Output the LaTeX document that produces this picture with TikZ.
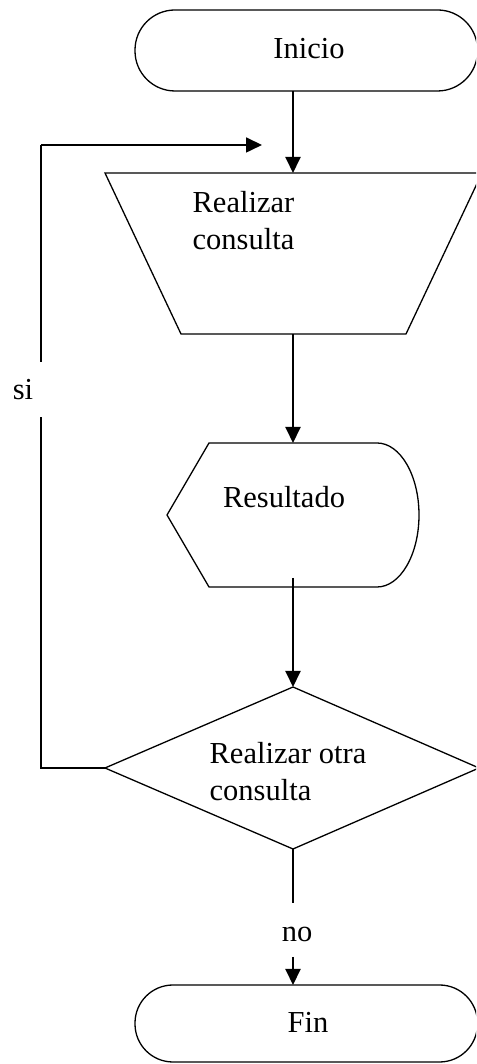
\documentclass[tikz,border=0pt]{standalone}
\usepackage{fontspec}
\setmainfont{Liberation Serif}
\usetikzlibrary{arrows.meta}

\begin{document}
\begin{tikzpicture}[x=1pt,y=1pt,line width=1.3pt,
	flecha/.style={line width=2pt,-{Triangle[length=16pt,width=15pt]}},
	txt/.style={inner sep=0pt,font=\fontsize{30.5}{36.5}\selectfont,align=left}]
\useasboundingbox (0,0) rectangle (476,1064);
\clip (0,0) rectangle (476,1064);

% puntos de cada figura
\coordinate(ini1) at (135,1054); \coordinate(ini2) at (477.5,973); \coordinate(iniB) at (293,973);
\coordinate(tr1) at (105,891); \coordinate(tr2) at (482,891); \coordinate(tr3) at (406,730); \coordinate(tr4) at (181,730);
\coordinate(trT) at (293,891); \coordinate(trB) at (293,730);
\coordinate(re1) at (209,621); \coordinate(re2) at (377,621); \coordinate(re3) at (209,477); \coordinate(re4) at (167,549);
\coordinate(reT) at (293,621); \coordinate(reB) at (293,486);
\coordinate(diT) at (293,377); \coordinate(diL) at (105,296); \coordinate(diR) at (479,296); \coordinate(diB) at (293,215);
\coordinate(no1) at (293,161); \coordinate(no2) at (293,107);
\coordinate(fin1) at (135,79); \coordinate(fin2) at (477.5,2); \coordinate(finT) at (293,79);
\coordinate(si1) at (41,296); \coordinate(si2) at (41,647); \coordinate(si3) at (41,702); \coordinate(si4) at (41,919); \coordinate(si5) at (262,919);

% figuras
\draw[rounded corners=40pt] (ini1) rectangle (ini2);
\node[txt, anchor=base] (inicio) at (309,1005) {Inicio};
\draw (tr1)--(tr2)--(tr3)--(tr4)--cycle;
\node[txt, anchor=north west] (consulta) at (192,873) {Realizar\\consulta};
\draw (re1)--(re2) arc[start angle=90, end angle=-90, x radius=42, y radius=72]--(re3)--(re4)--cycle;
\node[txt, anchor=base] (resultado) at (284,556) {Resultado};
\draw (diT)--(diR)--(diB)--(diL)--cycle;
\node[txt, anchor=north west] (otra) at (209,322) {Realizar otra\\consulta};
\draw[rounded corners=38pt] (fin1) rectangle (fin2);
\node[txt, anchor=base] (fin) at (308,31) {Fin};

% flechas
\draw[flecha] (iniB)--(trT);
\draw[flecha] (trB)--(reT);
\draw[flecha] (reB)--(diT);
\draw (diB)--(no1);
\node[txt, anchor=base] (no) at (297,122) {no};
\draw[flecha] (no2)--(finT);
\draw (diL)--(si1)--(si2);
\node[txt, anchor=base] (si) at (23,664) {si};
\draw (si3)--(si4);
\draw[flecha, line width=1.7pt] (si4)--(si5);
\end{tikzpicture}
\end{document}
